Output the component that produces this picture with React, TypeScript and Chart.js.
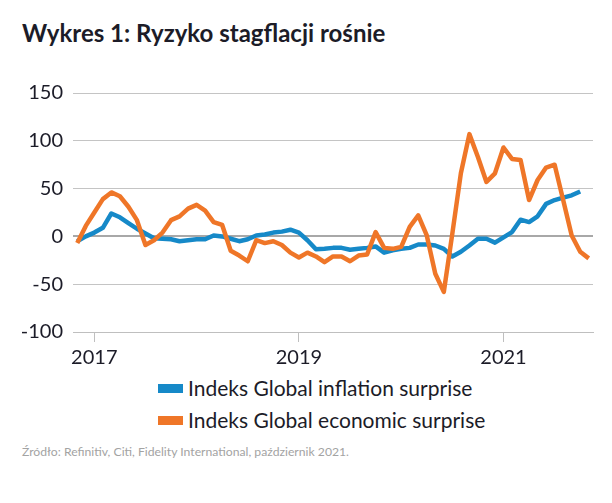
import React, { useEffect, useRef } from "react";
import { Chart, registerables } from "chart.js";

Chart.register(...registerables);

// Monthly categories, Nov 2016 – Nov 2021
const months: string[] = [
  "2016-11", "2016-12",
  "2017-01", "2017-02", "2017-03", "2017-04", "2017-05", "2017-06", "2017-07", "2017-08", "2017-09", "2017-10", "2017-11", "2017-12",
  "2018-01", "2018-02", "2018-03", "2018-04", "2018-05", "2018-06", "2018-07", "2018-08", "2018-09", "2018-10", "2018-11", "2018-12",
  "2019-01", "2019-02", "2019-03", "2019-04", "2019-05", "2019-06", "2019-07", "2019-08", "2019-09", "2019-10", "2019-11", "2019-12",
  "2020-01", "2020-02", "2020-03", "2020-04", "2020-05", "2020-06", "2020-07", "2020-08", "2020-09", "2020-10", "2020-11", "2020-12",
  "2021-01", "2021-02", "2021-03", "2021-04", "2021-05", "2021-06", "2021-07", "2021-08", "2021-09", "2021-10", "2021-11",
];

const xTickYears = ["2017", "2019", "2021"];
const yTicks = [-100, -50, 0, 50, 100, 150];

const inflationSurprise: number[] = [
  -5, 0, 4, 9, 24, 20, 14, 8, 3, -2,
  -2.5, -3, -5, -4, -3, -3, 1, 0, -2.5, -5,
  -3, 1, 2, 4, 5, 7, 4, -4, -13.5, -13,
  -12, -12, -14, -13, -12, -10.5, -17, -14.5, -13, -12,
  -8.5, -8.5, -9.5, -13, -21, -16, -9.5, -2.5, -2.5, -6.5,
  -1, 4.5, 17.5, 15, 21, 34, 38, 40.5, 43, 47,
];

const economicSurprise: number[] = [
  -7, 11, 25, 39, 46, 42, 31, 17, -9, -4,
  4, 17, 21, 29, 33, 27, 15, 12, -15, -20,
  -26, -4, -7, -5, -9, -17, -22, -17, -21, -27,
  -21, -21, -26, -20, -19, 4.5, -12, -13, -11, 10,
  22, 1, -39, -58, 3, 66, 107, 83, 57, 66,
  93, 81, 80, 38, 59, 72, 75, 38, 1, -16,
  -23,
];

const seriesNames = ["Indeks Global inflation surprise", "Indeks Global economic surprise"];
const seriesColors = ["#1689c8", "#ef7628"];

const FONT = "Lato, 'Open Sans', sans-serif";
const TEXT = "#1c1c28";

export default function App() {
  const canvasRef = useRef<HTMLCanvasElement | null>(null);

  useEffect(() => {
    const canvas = canvasRef.current;
    if (!canvas) return;
    const isYearTick = (i: number) => {
      const lab = months[i];
      return !!lab && lab.endsWith("-01") && xTickYears.includes(lab.slice(0, 4));
    };
    const chart = new Chart(canvas, {
      type: "line",
      data: {
        labels: months,
        datasets: [
          {
            label: seriesNames[1],
            data: economicSurprise,
            borderColor: seriesColors[1],
            backgroundColor: seriesColors[1],
            borderWidth: 4.5,
            pointRadius: 0,
            tension: 0,
            borderJoinStyle: "round",
            order: 1,
          },
          {
            label: seriesNames[0],
            data: inflationSurprise,
            borderColor: seriesColors[0],
            backgroundColor: seriesColors[0],
            borderWidth: 4.5,
            pointRadius: 0,
            tension: 0,
            borderJoinStyle: "round",
            order: 2,
          },
        ],
      },
      options: {
        animation: false,
        responsive: false,
        maintainAspectRatio: false,
        layout: { padding: { top: 23, right: 19, bottom: 0, left: 0 } },
        plugins: {
          legend: { display: false },
          tooltip: { enabled: false },
          title: { display: false },
        },
        scales: {
          x: {
            type: "category",
            offset: true,
            afterFit: (scale: any) => {
              scale.height = 40;
            },
            grid: {
              offset: false,
              drawOnChartArea: false,
              drawTicks: true,
              tickLength: 10,
              color: (ctx: any) => (isYearTick(ctx.index) ? "#bfbfbf" : "rgba(0,0,0,0)"),
            },
            border: { display: true, color: "#bfbfbf", width: 1 },
            ticks: {
              autoSkip: false,
              maxRotation: 0,
              minRotation: 0,
              padding: 4,
              color: TEXT,
              font: { family: FONT, size: 20 },
              callback: (_v: any, i: number) => (isYearTick(i) ? months[i].slice(0, 4) : ""),
            },
          },
          y: {
            min: yTicks[0],
            max: yTicks[yTicks.length - 1],
            afterFit: (scale: any) => {
              scale.width = 73;
            },
            afterBuildTicks: (scale: any) => {
              scale.ticks = yTicks.map((v) => ({ value: v }));
            },
            grid: {
              drawTicks: false,
              color: (ctx: any) => (ctx.tick && ctx.tick.value === 0 ? "#a8a8a8" : "#c4c4c4"),
              lineWidth: (ctx: any) => (ctx.tick && ctx.tick.value === 0 ? 2 : 1),
            },
            border: { display: false },
            ticks: {
              padding: 10,
              color: TEXT,
              font: { family: FONT, size: 20 },
            },
          },
        },
      },
    });
    return () => chart.destroy();
  }, []);

  return (
    <div
      style={{
        position: "fixed",
        left: 0,
        top: 0,
        width: 612,
        height: 503,
        background: "#ffffff",
        fontFamily: FONT,
        overflow: "hidden",
      }}
    >
      <div
        style={{
          position: "absolute",
          left: 22,
          top: 19,
          fontSize: 24,
          lineHeight: "28px",
          fontWeight: 700,
          color: TEXT,
          whiteSpace: "nowrap",
        }}
      >
        Wykres 1: Ryzyko stagflacji rośnie
      </div>
      <canvas
        ref={canvasRef}
        width={612}
        height={302}
        style={{ position: "absolute", left: 0, top: 70, width: 612, height: 302 }}
      />
      {seriesNames.map((name, i) => (
        <div
          key={name}
          style={{
            position: "absolute",
            left: 158,
            top: 376 + i * 32,
            height: 24,
            display: "flex",
            alignItems: "center",
            whiteSpace: "nowrap",
          }}
        >
          <span
            style={{
              display: "inline-block",
              width: 25,
              height: 9,
              background: seriesColors[i],
              marginRight: 5,
            }}
          />
          <span style={{ fontSize: 21, color: TEXT, lineHeight: "24px" }}>{name}</span>
        </div>
      ))}
      <div
        style={{
          position: "absolute",
          left: 22,
          top: 444,
          fontSize: 12.2,
          lineHeight: "16px",
          color: "#a3a3a3",
          whiteSpace: "nowrap",
        }}
      >
        Źródło: Refinitiv, Citi, Fidelity International, październik 2021.
      </div>
    </div>
  );
}
